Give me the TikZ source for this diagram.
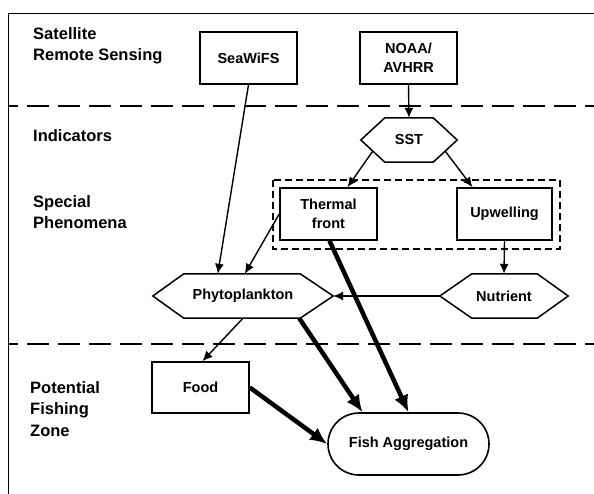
\documentclass[tikz,border=0pt]{standalone}
\usepackage{fontspec}
\setmainfont{Liberation Sans}
\usetikzlibrary{arrows.meta,calc,shapes.misc}
\begin{document}
\begin{tikzpicture}[x=1pt,y=-1pt,
  lbl/.style={font=\bfseries\fontsize{16.5}{21.5}\selectfont,align=left,inner sep=0pt,anchor=north west},
  box/.style={draw,line width=1.6pt,font=\bfseries\fontsize{14.5}{19}\selectfont,align=center,inner sep=0pt},
  hexnode/.style={font=\bfseries\fontsize{14.5}{19}\selectfont,inner sep=0pt},
  hexline/.style={line width=1.5pt,line join=miter},
  thin/.style={line width=1.4pt,-{Latex[length=10pt,width=9pt]}},
  thick/.style={line width=4.5pt,-{Latex[length=17pt,width=15pt]}},
  sep/.style={line width=2.5pt,dash pattern=on 22pt off 9pt,dash phase=12pt}
]
\useasboundingbox (0,0) rectangle (594,494);
% frame
\draw[line width=1pt] (8,494) -- (8,14) -- (594,14);
\draw[sep] (8,106) -- (594,106);
\draw[sep] (8,344) -- (594,344);
% dashed group
\draw[line width=2pt,dash pattern=on 7pt off 4pt] (273,180) rectangle (560,249);
% labels
\node[lbl] (l1) at (33,27) {Satellite\\Remote Sensing};
\node[lbl] (l2) at (33,129) {Indicators};
\node[lbl] (l3) at (33,195) {Special\\Phenomena};
\node[lbl] (l4) at (30,381) {Potential\\Fishing\\Zone};
% boxes
\node[box,minimum width=97pt,minimum height=52pt] (sea) at (248.5,58) {SeaWiFS};
\node[box,minimum width=97pt,minimum height=52pt] (noaa) at (408.5,58) {NOAA/\\AVHRR};
\node[box,minimum width=97pt,minimum height=52pt] (thermal) at (328.5,214) {Thermal\\front};
\node[box,minimum width=95pt,minimum height=52pt] (upw) at (504.5,214) {Upwelling};
\node[box,minimum width=97pt,minimum height=51pt] (food) at (200.5,387.5) {Food};
\node[box,rounded rectangle,minimum width=161pt,minimum height=62pt] (fish) at (408.5,444) {Fish Aggregation};
% hexagons
\node[hexnode,minimum width=96pt,minimum height=44pt] (sst) at (409,140) {SST};
\draw[hexline] (sst.west) -- ($(sst.north west)+(24,0)$) -- ($(sst.north east)+(-24,0)$) -- (sst.east)
  -- ($(sst.south east)+(-24,0)$) -- ($(sst.south west)+(24,0)$) -- cycle;
\node[hexnode,minimum width=180pt,minimum height=44pt] (ph) at (243,296) {Phytoplankton};
\draw[hexline] (ph.west) -- ($(ph.north west)+(31,0)$) -- ($(ph.north east)+(-33,0)$) -- (ph.east)
  -- ($(ph.south east)+(-33,0)$) -- ($(ph.south west)+(31,0)$) -- cycle;
\node[hexnode,minimum width=128pt,minimum height=44pt] (nut) at (504,296) {Nutrient};
\draw[hexline] (nut.west) -- ($(nut.north west)+(32,0)$) -- ($(nut.north east)+(-31,0)$) -- (nut.east)
  -- ($(nut.south east)+(-31,0)$) -- ($(nut.south west)+(32,0)$) -- cycle;
% connectors
\draw[thin] (sea.south) -- ($(ph.north west)+(65,0)$);
\draw[thin] (noaa.south) -- (sst.north);
\draw[thin] ($(sst.west)!0.5!($(sst.south west)+(24,0)$)$) -- ($(thermal.north)+(19,0)$);
\draw[thin] ($(sst.east)!0.5!($(sst.south east)+(-24,0)$)$) -- ($(upw.north)+(-32,0)$);
\draw[thin] (thermal.west) -- ($(ph.north west)+(92,0)$);
\draw[thin] (upw.south) -- (nut.north);
\draw[thin] (nut.west) -- (ph.east);
\draw[thin] (ph.south) -- ($(food.north)+(2,0)$);
\draw[thick] ($(thermal.south)+(1,0)$) -- (fish.north);
\draw[thick] ($(ph.south east)+(-34,0)$) -- ($(fish.north)+(-46,0)$);
\draw[thick] (food.east) -- (fish.west);
\end{tikzpicture}
\end{document}
